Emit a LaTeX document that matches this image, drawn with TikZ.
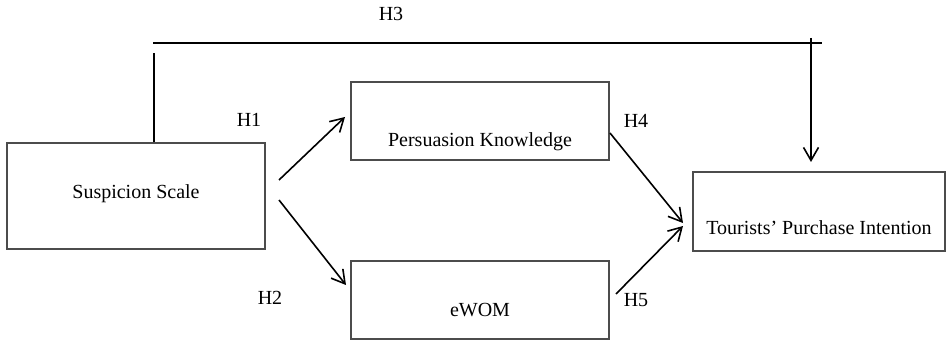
\documentclass[tikz,border=0pt]{standalone}
\usepackage{fontspec}
\setmainfont{Liberation Serif}
\usetikzlibrary{arrows.meta,calc}

\tikzset{
  varbox/.style={draw=black!70,line width=0.6pt,inner sep=0pt},
  hypline/.style={line width=0.8pt,black},
  hyparrow/.style={hypline,-{Straight Barb[length=6.5pt,width=7.5pt]}}
}

\begin{document}
\begin{tikzpicture}[x=0.5pt,y=-0.5pt,font=\fontsize{10}{12}\selectfont]
\useasboundingbox (0,0) rectangle (948,342);

% variables
\node[varbox,minimum width=129pt,minimum height=53pt,
  label={[yshift=1.3pt]center:Suspicion Scale}] (ss) at (136,196) {};
\node[varbox,minimum width=129pt,minimum height=39pt,
  label={[yshift=-10.2pt]center:Persuasion Knowledge}] (pk) at (480,121) {};
\node[varbox,minimum width=129pt,minimum height=39pt,
  label={[yshift=-5pt]center:eWOM}] (ewom) at (480,300) {};
\node[varbox,minimum width=126pt,minimum height=39.5pt,
  label={[yshift=-8pt]center:Tourists' Purchase Intention}] (tpi) at (819,211.5) {};

% arrow ends
\coordinate (s1) at (279,180);
\coordinate (p1) at (345,117);
\coordinate (s2) at (279,200);
\coordinate (e1) at (346,285);
\coordinate (p2) at (610,133);
\coordinate (t1) at (683,223);
\coordinate (e2) at (616,294);
\coordinate (t2) at (683,226);
\coordinate (h3a) at (154,53);
\coordinate (h3l) at (153,43);
\coordinate (h3r) at (822,43);
\coordinate (h3b) at (811,38);
\coordinate (h3c) at (811,162);

\draw[hyparrow] (s1) -- (p1);
\draw[hyparrow] (s2) -- (e1);
\draw[hyparrow] (p2) -- (t1);
\draw[hyparrow] (e2) -- (t2);

\draw[hypline] (ss.north -| h3a) -- (h3a);
\draw[hypline] (h3l) -- (h3r);
\draw[hyparrow] (h3b) -- (h3c);

% hypotheses
\node (h1) at (249,120) {H1};
\node (h2) at (270,298) {H2};
\node (h3) at (391,14) {H3};
\node (h4) at (636,121) {H4};
\node (h5) at (636,300) {H5};

\end{tikzpicture}
\end{document}
